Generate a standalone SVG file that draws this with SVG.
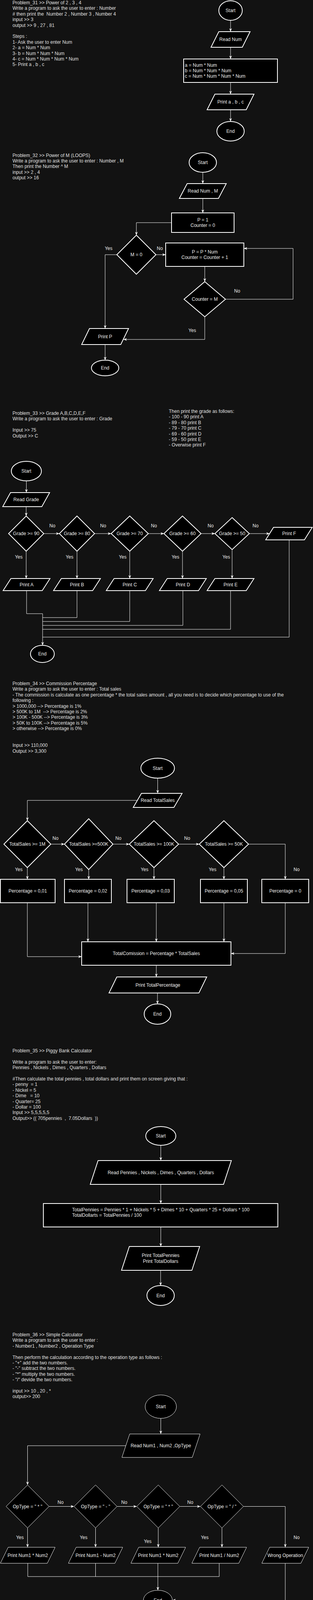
<svg xmlns="http://www.w3.org/2000/svg" width="801" height="4633" viewBox="0 0 801 4633">
<style>
.desc{font-family:"Liberation Sans",Arial,Helvetica,sans-serif;font-size:12px;fill:#e0e0e0;white-space:pre}
.lbl{font-family:"Liberation Sans",Arial,Helvetica,sans-serif;font-size:12px;fill:#f0f0f0;text-anchor:middle;dominant-baseline:central;white-space:pre}
.lbl-l{font-family:"Liberation Sans",Arial,Helvetica,sans-serif;font-size:12px;fill:#f0f0f0;dominant-baseline:central;white-space:pre}
.sh{fill:#000;stroke:#fff;stroke-width:2}
.thin{stroke-width:1}
.edge{fill:none;stroke:#fff;stroke-width:1}
.arr{marker-end:url(#ah)}
.elbl{font-family:"Liberation Sans",Arial,Helvetica,sans-serif;font-size:12px;fill:#f0f0f0;text-anchor:middle;dominant-baseline:central}
</style>
<defs>
<marker id="ah" viewBox="0 0 10 8" refX="10" refY="4" markerWidth="9" markerHeight="7" markerUnits="userSpaceOnUse" orient="auto">
<path d="M0,0 L10,4 L0,8 L3,4 Z" fill="#fff"/>
</marker>
</defs>
<rect x="0" y="0" width="801" height="4633" fill="#121212"/>

<!-- ========== Problem 31 ========== -->
<g id="p31-text">
<text class="desc"><tspan x="32" y="11">Problem_31 &gt;&gt; Power of 2 , 3 , 4</tspan><tspan x="32" y="25.4">Write a program to ask the user to enter : Number</tspan><tspan x="32" y="39.8"># then print the  Number 2 , Number 3 , Number 4</tspan><tspan x="32" y="54.2">input &gt;&gt; 3</tspan><tspan x="32" y="68.6">output &gt;&gt; 9 , 27 , 81</tspan><tspan x="32" y="97.4">Steps :</tspan><tspan x="32" y="111.8">1- Ask the user to enter Num</tspan><tspan x="32" y="126.2">2- a = Num * Num</tspan><tspan x="32" y="140.6">3- b = Num * Num * Num</tspan><tspan x="32" y="155">4- c = Num * Num * Num * Num</tspan><tspan x="32" y="169.4">5- Print a , b , c</tspan></text>
</g>
<g id="p31-start"><ellipse class="sh" cx="590" cy="27" rx="30" ry="25"/><text class="lbl" x="590" y="27">Start</text></g>
<g id="p31-read"><path class="sh" d="M560,81 L640,81 L620,121 L540,121 Z"/><text class="lbl" x="590" y="101">Read Num</text></g>
<g id="p31-calc"><rect class="sh" x="470" y="151" width="240" height="60"/><text class="lbl-l" x="473" y="166.6">a = Num * Num</text><text class="lbl-l" x="473" y="181">b = Num * Num * Num</text><text class="lbl-l" x="473" y="195.4">c = Num * Num * Num * Num</text></g>
<g id="p31-print"><path class="sh" d="M550,241 L650,241 L630,281 L530,281 Z"/><text class="lbl" x="590" y="261">Print a , b , c</text></g>
<g id="p31-end"><ellipse class="sh" cx="590" cy="336" rx="35" ry="25"/><text class="lbl" x="590" y="336">End</text></g>

<!-- ========== Problem 32 ========== -->
<g id="p32-text">
<text class="desc"><tspan x="32" y="401.5">Problem_32 &gt;&gt; Power of M (LOOPS)</tspan><tspan x="32" y="415.9">Write a program to ask the user to enter : Number , M</tspan><tspan x="32" y="430.3">Then print the Number ^ M</tspan><tspan x="32" y="444.7">input &gt;&gt; 2 , 4</tspan><tspan x="32" y="459.1">output &gt;&gt; 16</tspan></text>
</g>
<g id="p32-start"><ellipse class="sh" cx="519" cy="416" rx="35" ry="25"/><text class="lbl" x="519" y="416">Start</text></g>
<g id="p32-read"><path class="sh" d="M479,470 L579,470 L559,508 L459,508 Z"/><text class="lbl" x="519" y="489">Read Num , M</text></g>
<g id="p32-init"><rect class="sh" x="439" y="545" width="160" height="50"/><text class="lbl" x="519" y="562.8">P = 1</text><text class="lbl" x="519" y="577.2">Counter = 0</text></g>
<g id="p32-cond1"><path class="sh" d="M349,602 L399,652 L349,702 L299,652 Z"/><text class="lbl" x="349" y="652">M = 0</text></g>
<g id="p32-body"><rect class="sh" x="424" y="622" width="200" height="60"/><text class="lbl" x="524" y="644.8">P = P * Num</text><text class="lbl" x="524" y="659.2">Counter = Counter + 1</text></g>
<g id="p32-cond2"><path class="sh" d="M524,721 L577,766 L524,811 L471,766 Z"/><text class="lbl" x="524" y="766">Counter = M</text></g>
<g id="p32-print"><path class="sh" d="M229,841 L329,841 L309,882 L209,882 Z"/><text class="lbl" x="269" y="861.5">Print P</text></g>
<g id="p32-end"><ellipse class="sh" cx="269" cy="942" rx="35" ry="20"/><text class="lbl" x="269" y="942">End</text></g>

<!-- ========== Problem 33 ========== -->
<g id="p33-text">
<text class="desc"><tspan x="32" y="1062">Problem_33 &gt;&gt; Grade A,B,C,D,E,F</tspan><tspan x="32" y="1076.4">Write a program to ask the user to enter : Grade</tspan><tspan x="32" y="1105.2">Input &gt;&gt; 75</tspan><tspan x="32" y="1119.6">Output &gt;&gt; C</tspan></text>
<text class="desc"><tspan x="432" y="1057">Then print the grade as follows:</tspan><tspan x="432" y="1071.4">- 100 - 90 print A</tspan><tspan x="432" y="1085.8">- 89 - 80 print B</tspan><tspan x="432" y="1100.2">- 79 - 70 print C</tspan><tspan x="432" y="1114.6">- 69 - 60 print D</tspan><tspan x="432" y="1129">- 59 - 50 print E</tspan><tspan x="432" y="1143.4">- Overwise print F</tspan></text>
</g>
<g id="p33-start"><ellipse class="sh" cx="67.5" cy="1206" rx="38.5" ry="25"/><text class="lbl" x="67.5" y="1206">Start</text></g>
<g id="p33-read"><path class="sh" d="M27,1261 L127,1261 L107,1297 L7,1297 Z"/><text class="lbl" x="67" y="1279">Read Grade</text></g>
<g id="p33-d90"><path class="sh" d="M67,1321 L112,1366 L67,1411 L22,1366 Z"/><text class="lbl" x="67" y="1366">Grade &gt;= 90</text></g>
<g id="p33-d80"><path class="sh" d="M197,1321 L242,1366 L197,1411 L152,1366 Z"/><text class="lbl" x="197" y="1366">Grade &gt;= 80</text></g>
<g id="p33-d70"><path class="sh" d="M332,1321 L379.5,1366 L332,1411 L284.5,1366 Z"/><text class="lbl" x="332" y="1366">Grade &gt;= 70</text></g>
<g id="p33-d60"><path class="sh" d="M467,1321 L514.5,1366 L467,1411 L419.5,1366 Z"/><text class="lbl" x="467" y="1366">Grade &gt;= 60</text></g>
<g id="p33-d50"><path class="sh" d="M594,1325 L638,1366 L594,1407 L550,1366 Z"/><text class="lbl" x="594" y="1366">Grade &gt;= 50</text></g>
<g id="p33-printF"><path class="sh" d="M700,1350 L799,1350 L779,1382 L680,1382 Z"/><text class="lbl" x="740" y="1366">Print F</text></g>
<g id="p33-printA"><path class="sh" d="M28,1481 L128,1481 L108,1512 L8,1512 Z"/><text class="lbl" x="68" y="1496.5">Print A</text></g>
<g id="p33-printB"><path class="sh" d="M157,1481 L257,1481 L237,1512 L137,1512 Z"/><text class="lbl" x="197" y="1496.5">Print B</text></g>
<g id="p33-printC"><path class="sh" d="M292,1481 L392,1481 L372,1512 L272,1512 Z"/><text class="lbl" x="332" y="1496.5">Print C</text></g>
<g id="p33-printD"><path class="sh" d="M428,1481 L528,1481 L508,1512 L408,1512 Z"/><text class="lbl" x="468" y="1496.5">Print D</text></g>
<g id="p33-printE"><path class="sh" d="M550,1481 L650,1481 L630,1512 L530,1512 Z"/><text class="lbl" x="590" y="1496.5">Print E</text></g>
<g id="p33-end"><ellipse class="sh" cx="108.5" cy="1674" rx="30.5" ry="22"/><text class="lbl" x="108.5" y="1674">End</text></g>

<!-- ========== Problem 34 ========== -->
<g id="p34-text">
<text class="desc"><tspan x="32" y="1754">Problem_34 &gt;&gt; Commission Percentage</tspan><tspan x="32" y="1768.4">Write a program to ask the user to enter : Total sales</tspan><tspan x="32" y="1782.8">- The commission is calculate as one percentage * the total sales amount , all you need is to decide which percentage to use of the</tspan><tspan x="32" y="1797.2">following :</tspan><tspan x="32" y="1811.6">&gt; 1000,000 --&gt; Percentage is 1%</tspan><tspan x="32" y="1826">&gt; 500K to 1M  --&gt; Percentage is 2%</tspan><tspan x="32" y="1840.4">&gt; 100K - 500K --&gt; Percentage is 3%</tspan><tspan x="32" y="1854.8">&gt; 50K to 100K --&gt; Percentage is 5%</tspan><tspan x="32" y="1869.2">&gt; otherwise --&gt; Percentage is 0%</tspan><tspan x="32" y="1912.4">Input &gt;&gt; 110,000</tspan><tspan x="32" y="1926.8">Output &gt;&gt; 3,300</tspan></text>
</g>
<g id="p34-start"><ellipse class="sh" cx="403.5" cy="1966.5" rx="43" ry="25.5"/><text class="lbl" x="403.5" y="1966.5">Start</text></g>
<g id="p34-read"><path class="sh" d="M362,2031 L466,2031 L445,2067 L341,2067 Z"/><text class="lbl" x="403.5" y="2049">Read TotalSales</text></g>
<g id="p34-d1"><path class="sh" d="M70,2101 L130,2161 L70,2221 L10,2161 Z"/><text class="lbl" x="70" y="2161">TotalSales &gt;= 1M</text></g>
<g id="p34-d2"><path class="sh" d="M227,2096 L289,2161 L227,2226 L165,2161 Z"/><text class="lbl" x="227" y="2161">TotalSales &gt;=500K</text></g>
<g id="p34-d3"><path class="sh" d="M394,2101 L457,2161 L394,2221 L331,2161 Z"/><text class="lbl" x="394" y="2161">TotalSales &gt;= 100K</text></g>
<g id="p34-d4"><path class="sh" d="M573,2101 L636,2161 L573,2221 L510,2161 Z"/><text class="lbl" x="573" y="2161">TotalSales &gt;= 50K</text></g>
<g id="p34-b1"><rect class="sh" x="1" y="2251" width="140" height="60"/><text class="lbl" x="71" y="2281">Percentage = 0,01</text></g>
<g id="p34-b2"><rect class="sh" x="165" y="2251" width="120" height="60"/><text class="lbl" x="225" y="2281">Percentage = 0,02</text></g>
<g id="p34-b3"><rect class="sh" x="325" y="2251" width="121" height="60"/><text class="lbl" x="385.5" y="2281">Percentage = 0,03</text></g>
<g id="p34-b4"><rect class="sh" x="513" y="2251" width="120" height="60"/><text class="lbl" x="573" y="2281">Percentage = 0,05</text></g>
<g id="p34-b5"><rect class="sh" x="670" y="2251" width="120" height="60"/><text class="lbl" x="730" y="2281">Percentage = 0</text></g>
<g id="p34-total"><rect class="sh" x="209" y="2411" width="382" height="60"/><text class="lbl" x="400" y="2441">TotalComission = Percentage * TotalSales</text></g>
<g id="p34-print"><path class="sh" d="M299,2501 L529,2501 L509,2542 L279,2542 Z"/><text class="lbl" x="404" y="2521.5">Print TotalPercentage</text></g>
<g id="p34-end"><ellipse class="sh" cx="403" cy="2596" rx="34" ry="26"/><text class="lbl" x="403" y="2596">End</text></g>

<!-- ========== Problem 35 ========== -->
<g id="p35-text">
<text class="desc"><tspan x="32" y="2694">Problem_35 &gt;&gt; Piggy Bank Calculator</tspan><tspan x="32" y="2722.8">Write a program to ask the user to enter:</tspan><tspan x="32" y="2737.2">Pennies , Nickels , Dimes , Quarters , Dollars</tspan><tspan x="32" y="2766">#Then calculate the total pennies , total dollars and print them on screen giving that :</tspan><tspan x="32" y="2780.4">- penny  = 1</tspan><tspan x="32" y="2794.8">- Nickel = 5</tspan><tspan x="32" y="2809.2">- Dime   = 10</tspan><tspan x="32" y="2823.6">- Quarter= 25</tspan><tspan x="32" y="2838">- Dollar = 100</tspan><tspan x="32" y="2852.4">Input &gt;&gt; 5,5,5,5,5</tspan><tspan x="32" y="2866.8">Output&gt;&gt; (( 705pennies  ,  7.05Dollars  ))</tspan></text>
</g>
<g id="p35-start"><ellipse class="sh" cx="411.5" cy="2908" rx="38.5" ry="24"/><text class="lbl" x="411.5" y="2908">Start</text></g>
<g id="p35-read"><path class="sh" d="M251,2971 L592,2971 L572,3032 L231,3032 Z"/><text class="lbl" x="411.5" y="3001.5">Read Pennies , Nickels , Dimes , Quarters , Dollars</text></g>
<g id="p35-calc"><rect class="sh" x="111" y="3081" width="600" height="60"/><text class="lbl-l" x="184.5" y="3097">TotalPennies = Pennies * 1 + Nickels * 5 + Dimes * 10 + Quarters * 25 + Dollars * 100</text><text class="lbl-l" x="184.5" y="3111.4">TotalDollarts = TotalPennies / 100</text></g>
<g id="p35-print"><path class="sh" d="M331,3191 L511,3191 L491,3252 L311,3252 Z"/><text class="lbl" x="411" y="3214.3">Print TotalPennies</text><text class="lbl" x="411" y="3228.7">Print TotalDollars</text></g>
<g id="p35-end"><ellipse class="sh" cx="411" cy="3316.5" rx="35" ry="25.5"/><text class="lbl" x="411" y="3316.5">End</text></g>

<!-- ========== Problem 36 ========== -->
<g id="p36-text">
<text class="desc"><tspan x="32" y="3421">Problem_36 &gt;&gt; Simple Calculator</tspan><tspan x="32" y="3435.4">Write a program to ask the user to enter :</tspan><tspan x="32" y="3449.8">- Number1 , Number2 , Operation Type</tspan><tspan x="32" y="3478.6">Then perform the calculation according to the operation type as follows :</tspan><tspan x="32" y="3493">- "+" add the two numbers.</tspan><tspan x="32" y="3507.4">- "-" subtract the two numbers.</tspan><tspan x="32" y="3521.8">- "*" multiply the two numbers.</tspan><tspan x="32" y="3536.2">- "/" devide the two numbers.</tspan><tspan x="32" y="3565">input &gt;&gt; 10 , 20 , *</tspan><tspan x="32" y="3579.4">output&gt;&gt; 200</tspan></text>
</g>
<g id="p36-start"><ellipse class="sh thin" cx="411.5" cy="3601" rx="40" ry="30"/><text class="lbl" x="411.5" y="3601">Start</text></g>
<g id="p36-read"><path class="sh thin" d="M332,3671 L512,3671 L492,3731 L312,3731 Z"/><text class="lbl" x="411.5" y="3701">Read Num1 , Num2 ,OpType</text></g>
<g id="p36-d1"><path class="sh thin" d="M70.5,3801.5 L125.5,3856.5 L70.5,3911.5 L15.5,3856.5 Z"/><text class="lbl" x="70.5" y="3856.5">OpType = " * "</text></g>
<g id="p36-d2"><path class="sh thin" d="M244.5,3801.5 L299.5,3856.5 L244.5,3911.5 L189.5,3856.5 Z"/><text class="lbl" x="244.5" y="3856.5">OpType = " - "</text></g>
<g id="p36-d3"><path class="sh thin" d="M405,3801.5 L460,3856.5 L405,3911.5 L350,3856.5 Z"/><text class="lbl" x="405" y="3856.5">OpType = " * "</text></g>
<g id="p36-d4"><path class="sh thin" d="M568,3801.5 L623,3856.5 L568,3911.5 L513,3856.5 Z"/><text class="lbl" x="568" y="3856.5">OpType = " / "</text></g>
<g id="p36-p1"><path class="sh thin" d="M21,3961 L141,3961 L121,4002 L1,4002 Z"/><text class="lbl" x="71" y="3981.5">Print Num1 * Num2</text></g>
<g id="p36-p2"><path class="sh thin" d="M195,3961 L314,3961 L294,4002 L175,4002 Z"/><text class="lbl" x="244.5" y="3981.5">Print Num1 - Num2</text></g>
<g id="p36-p3"><path class="sh thin" d="M355,3961 L475,3961 L455,4002 L335,4002 Z"/><text class="lbl" x="405" y="3981.5">Print Num1 * Num2</text></g>
<g id="p36-p4"><path class="sh thin" d="M511,3961 L631,3961 L611,4002 L491,4002 Z"/><text class="lbl" x="561" y="3981.5">Print Num1 / Num2</text></g>
<g id="p36-p5"><path class="sh thin" d="M690,3961 L790,3961 L770,4002 L670,4002 Z"/><text class="lbl" x="730" y="3981.5">Wrong Operation</text></g>
<g id="p36-end"><ellipse class="sh thin" cx="404" cy="4096.5" rx="37" ry="25.5"/><text class="lbl" x="404" y="4096.5">End</text></g>

<!-- ========== Problem 37 ========== -->
<g id="p37-text">
<text class="desc"><tspan x="32" y="4179">Problem_37 &gt;&gt; Sum Until-99</tspan><tspan x="32" y="4193.4">Write a program to read numbers from user and sum them , keep reading unit the user enters -99 then print the Sum on screen</tspan><tspan x="32" y="4207.8">input &gt;&gt; 10 , 20 , 30 , 40 , -99</tspan><tspan x="32" y="4222.2">output &gt;&gt;100</tspan></text>
<text class="desc"><tspan x="32" y="4248"># This means that the program continues</tspan><tspan x="32" y="4262.4">to receive numbers and adds them to the</tspan><tspan x="32" y="4276.8">number before it, until it reaches the</tspan><tspan x="32" y="4291.2">number (-99).</tspan></text>
</g>
<g id="p37-start"><ellipse class="sh" cx="389" cy="4266" rx="35" ry="25"/><text class="lbl" x="389" y="4266">Start</text></g>
<g id="p37-sum0"><rect class="sh" x="329" y="4321" width="120" height="40"/><text class="lbl" x="389" y="4341">Sum = 0</text></g>
<g id="p37-read"><path class="sh" d="M349,4401 L449,4401 L429,4442 L329,4442 Z"/><text class="lbl" x="388" y="4421.5">Read Num</text></g>
<g id="p37-cond"><path class="sh" d="M389.5,4482 L429.5,4522 L389.5,4562 L349.5,4522 Z"/><text class="lbl" x="389.5" y="4522">Num = -99</text></g>
<g id="p37-add"><rect class="sh" x="185" y="4491" width="120" height="60"/><text class="lbl" x="245" y="4521">Sum = Sum + Num</text></g>
<g id="p37-print"><path class="sh" d="M510,4501 L610,4501 L590,4542 L490,4542 Z"/><text class="lbl" x="550" y="4521.5">Print Sum</text></g>
<g id="p37-end"><ellipse class="sh" cx="384" cy="4606.5" rx="35" ry="25"/><text class="lbl" x="384" y="4606.5">End</text></g>

<!-- ========== Connectors ========== -->
<g id="connectors">
<!-- P31 -->
<path class="edge arr" d="M590,52 V81"/>
<path class="edge arr" d="M590,121 V151"/>
<path class="edge arr" d="M590,211 V241"/>
<path class="edge arr" d="M590,281 V311"/>
<!-- P32 -->
<path class="edge arr" d="M519,441 V470"/>
<path class="edge arr" d="M519,508 V545"/>
<path class="edge arr" d="M439,570 H349 V602"/>
<path class="edge arr" d="M299,652 H269 V841"/>
<path class="edge arr" d="M399,652 H424"/>
<path class="edge arr" d="M524,682 V721"/>
<path class="edge arr" d="M577,766 H750 V636 H624"/>
<path class="edge arr" d="M524,811 V869 H316"/>
<path class="edge arr" d="M269,882 V922"/>
<!-- P33 -->
<path class="edge arr" d="M67.5,1231 V1261"/>
<path class="edge arr" d="M67,1297 V1321"/>
<path class="edge arr" d="M112,1366 H152"/>
<path class="edge arr" d="M242,1366 H284.5"/>
<path class="edge arr" d="M379.5,1366 H419.5"/>
<path class="edge arr" d="M514.5,1366 H550"/>
<path class="edge arr" d="M638,1366 H690"/>
<path class="edge arr" d="M67,1411 V1481"/>
<path class="edge arr" d="M197,1411 V1481"/>
<path class="edge arr" d="M332,1411 V1481"/>
<path class="edge arr" d="M467,1411 V1481"/>
<path class="edge arr" d="M594,1407 V1481"/>
<path class="edge arr" d="M68,1512 V1571 H109 V1652"/>
<path class="edge" d="M197,1512 V1581 H109"/>
<path class="edge" d="M332,1512 V1591 H109"/>
<path class="edge" d="M468,1512 V1601 H109"/>
<path class="edge" d="M590,1512 V1611 H109"/>
<path class="edge" d="M740,1382 V1631 H109"/>
<!-- P34 -->
<path class="edge arr" d="M403.5,1992 V2031"/>
<path class="edge arr" d="M351,2049 H70 V2101"/>
<path class="edge arr" d="M130,2161 H165"/>
<path class="edge arr" d="M289,2161 H331"/>
<path class="edge arr" d="M457,2161 H510"/>
<path class="edge arr" d="M636,2161 H730 V2251"/>
<path class="edge arr" d="M70,2221 V2251"/>
<path class="edge arr" d="M227,2226 V2251"/>
<path class="edge arr" d="M394,2221 V2251"/>
<path class="edge arr" d="M573,2221 V2251"/>
<path class="edge arr" d="M70,2311 V2449 H209"/>
<path class="edge arr" d="M225,2311 V2411"/>
<path class="edge arr" d="M400,2311 V2411"/>
<path class="edge arr" d="M573,2311 V2411"/>
<path class="edge arr" d="M730,2311 V2441 H591"/>
<path class="edge arr" d="M400,2471 V2501"/>
<path class="edge arr" d="M403,2542 V2570"/>
<!-- P35 -->
<path class="edge arr" d="M411.5,2932 V2971"/>
<path class="edge arr" d="M411.5,3032 V3081"/>
<path class="edge arr" d="M411.5,3141 V3191"/>
<path class="edge arr" d="M411,3252 V3291"/>
<!-- P36 -->
<path class="edge arr" d="M411.5,3631 V3671"/>
<path class="edge arr" d="M322,3701 H70.5 V3801.5"/>
<path class="edge arr" d="M125.5,3856.5 H189.5"/>
<path class="edge arr" d="M299.5,3856.5 H350"/>
<path class="edge arr" d="M460,3856.5 H513"/>
<path class="edge arr" d="M623,3856.5 H730 V3961"/>
<path class="edge arr" d="M70.5,3911.5 V3961"/>
<path class="edge arr" d="M244.5,3911.5 V3961"/>
<path class="edge arr" d="M405,3911.5 V3961"/>
<path class="edge arr" d="M568,3911.5 V3961"/>
<path class="edge" d="M71,4002 V4036 H404"/>
<path class="edge" d="M244.5,4002 V4036"/>
<path class="edge" d="M561,4002 V4036 H404"/>
<path class="edge arr" d="M404,4002 V4071"/>
<path class="edge arr" d="M730,4002 V4096.5 H441"/>
<!-- P37 -->
<path class="edge arr" d="M389,4291 V4321"/>
<path class="edge arr" d="M389,4361 V4401"/>
<path class="edge arr" d="M389,4442 V4482"/>
<path class="edge arr" d="M349.5,4522 H305"/>
<path class="edge arr" d="M185,4521 H165 V4381 H360 V4401"/>
<path class="edge arr" d="M429.5,4522 H499.5"/>
<path class="edge arr" d="M550,4542 V4602 H419"/>
</g>

<g id="edge-labels">
<text class="elbl" x="278" y="636">Yes</text>
<text class="elbl" x="409" y="636">No</text>
<text class="elbl" x="607" y="745">No</text>
<text class="elbl" x="492" y="846">Yes</text>
<text class="elbl" x="134" y="1346">No</text>
<text class="elbl" x="264" y="1346">No</text>
<text class="elbl" x="394" y="1346">No</text>
<text class="elbl" x="539" y="1346">No</text>
<text class="elbl" x="654" y="1346">No</text>
<text class="elbl" x="48" y="1426">Yes</text>
<text class="elbl" x="178" y="1426">Yes</text>
<text class="elbl" x="314" y="1426">Yes</text>
<text class="elbl" x="449" y="1426">Yes</text>
<text class="elbl" x="579" y="1426">Yes</text>
<text class="elbl" x="142" y="2146">No</text>
<text class="elbl" x="303" y="2146">No</text>
<text class="elbl" x="479" y="2146">No</text>
<text class="elbl" x="759" y="2226">No</text>
<text class="elbl" x="48" y="2226">Yes</text>
<text class="elbl" x="202" y="2226">Yes</text>
<text class="elbl" x="370" y="2226">Yes</text>
<text class="elbl" x="544" y="2226">Yes</text>
<text class="elbl" x="155" y="3846">No</text>
<text class="elbl" x="318" y="3846">No</text>
<text class="elbl" x="487" y="3846">No</text>
<text class="elbl" x="759" y="3936">No</text>
<text class="elbl" x="51" y="3936">Yes</text>
<text class="elbl" x="214" y="3936">Yes</text>
<text class="elbl" x="378" y="3946">Yes</text>
<text class="elbl" x="524" y="3936">Yes</text>
<text class="elbl" x="324" y="4536">No</text>
<text class="elbl" x="479" y="4546">Yes</text>
</g>
</svg>
